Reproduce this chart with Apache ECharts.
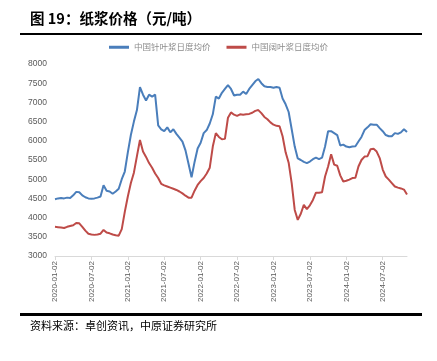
<!DOCTYPE html>
<html><head><meta charset="utf-8">
<script src="https://cdn.jsdelivr.net/npm/echarts@6/dist/echarts.min.js"></script>
<style>html,body{margin:0;padding:0;background:#fff}#c{width:437px;height:361px}</style>
</head><body><div id="c"></div>
<script>
// categories: semi-monthly dates 2020-01-02 .. 2024-11-02
const categories = [];
for (let y = 2020; y <= 2024; y++) {
  for (let m = 1; m <= 12; m++) {
    const mm = (m < 10 ? '0' : '') + m;
    categories.push(y + '-' + mm + '-02');
    if (y === 2024 && m === 11) break;
    categories.push(y + '-' + mm + '-16');
  }
}
const softwood = [4480,4500,4510,4500,4520,4510,4580,4670,4660,4580,4530,4500,4490,4500,4520,4550,4840,4700,4680,4620,
4680,4750,5000,5200,5700,6150,6500,6800,7400,7200,7050,7200,7150,7200,6400,6300,6250,6350,6220,6300,
6180,6080,5980,5750,5400,5050,5450,5800,5950,6200,6280,6450,6690,7150,7100,7250,7350,7450,7350,7180,
7200,7200,7280,7220,7350,7450,7550,7610,7500,7420,7400,7400,7380,7400,7380,7100,6950,6750,6300,5850,
5540,5500,5450,5420,5460,5520,5560,5520,5560,5850,6250,6250,6200,6150,5880,5900,5850,5830,5850,5860,
5980,6100,6280,6350,6430,6420,6420,6330,6250,6150,6120,6120,6200,6180,6220,6300,6230];
const hardwood = [3760,3750,3740,3730,3760,3780,3800,3860,3850,3760,3660,3580,3560,3550,3560,3580,3680,3610,3590,3560,
3540,3530,3700,4150,4550,4900,5170,5600,6020,5720,5580,5420,5300,5150,5030,4880,4840,4810,4780,4750,
4720,4680,4630,4570,4520,4520,4700,4850,4950,5030,5150,5300,5850,6200,6100,6040,6050,6600,6740,6680,
6650,6690,6680,6690,6700,6730,6780,6800,6720,6620,6560,6480,6420,6390,6380,6120,5700,5430,4900,4200,
3940,4100,4330,4220,4320,4460,4650,4650,4660,5070,5330,5650,5380,5350,5100,4940,4960,4990,5030,5040,
5330,5500,5590,5600,5780,5790,5720,5550,5250,5070,4990,4900,4810,4780,4760,4730,4600];
const seriesNames = ['中国针叶浆日度均价', '中国阔叶浆日度均价'];
const titleText = '图 19：纸浆价格（元/吨）';
const sourceText = '资料来源：卓创资讯，中原证券研究所';

const showTick = (i, v) => /-(01|07)-02$/.test(v);
const chart = echarts.init(document.getElementById('c'));
chart.setOption({
  animation: false,
  backgroundColor: '#fff',
  textStyle: { fontFamily: 'Liberation Sans, Arial, sans-serif' },
  graphic: [
    { type: 'text', left: 30, top: 11, style: { text: titleText, font: 'bold 14.5px "Noto Sans CJK SC"', fill: '#000' } },
    { type: 'rect', shape: { x: 20, y: 33, width: 402, height: 2 }, style: { fill: '#000' } },
    { type: 'rect', shape: { x: 20, y: 313, width: 402, height: 3 }, style: { fill: '#000' } },
    { type: 'text', left: 30, top: 320, style: { text: sourceText, font: '11px "Noto Sans CJK SC"', fill: '#000' } }
  ],
  legend: {
    top: 38, left: 'center', itemWidth: 20, itemHeight: 3, itemGap: 16, icon: 'rect',
    textStyle: { fontSize: 8.5, color: '#8c8c8c', fontFamily: 'Noto Sans CJK SC' },
    data: seriesNames
  },
  grid: { left: 55, right: 30, top: 64, bottom: 105, containLabel: false },
  xAxis: {
    type: 'category', data: categories, boundaryGap: false,
    axisLine: { lineStyle: { color: '#d9d9d9' } },
    axisTick: { show: true, interval: showTick, length: 4, lineStyle: { color: '#d9d9d9' } },
    axisLabel: { interval: showTick, rotate: 90, fontSize: 8, color: '#595959', margin: 5 },
    splitLine: { show: false }
  },
  yAxis: {
    type: 'value', min: 3000, max: 8000, interval: 500,
    axisLine: { show: false }, axisTick: { show: false },
    axisLabel: { fontSize: 8.5, color: '#595959', margin: 8, formatter: v => String(v) },
    splitLine: { show: false }
  },
  series: [
    { name: seriesNames[0], type: 'line', data: softwood, showSymbol: false, symbol: 'none',
      lineStyle: { color: '#4a7ebb', width: 2 }, itemStyle: { color: '#4a7ebb' } },
    { name: seriesNames[1], type: 'line', data: hardwood, showSymbol: false, symbol: 'none',
      lineStyle: { color: '#be4b48', width: 2 }, itemStyle: { color: '#be4b48' } }
  ]
});
</script></body></html>
